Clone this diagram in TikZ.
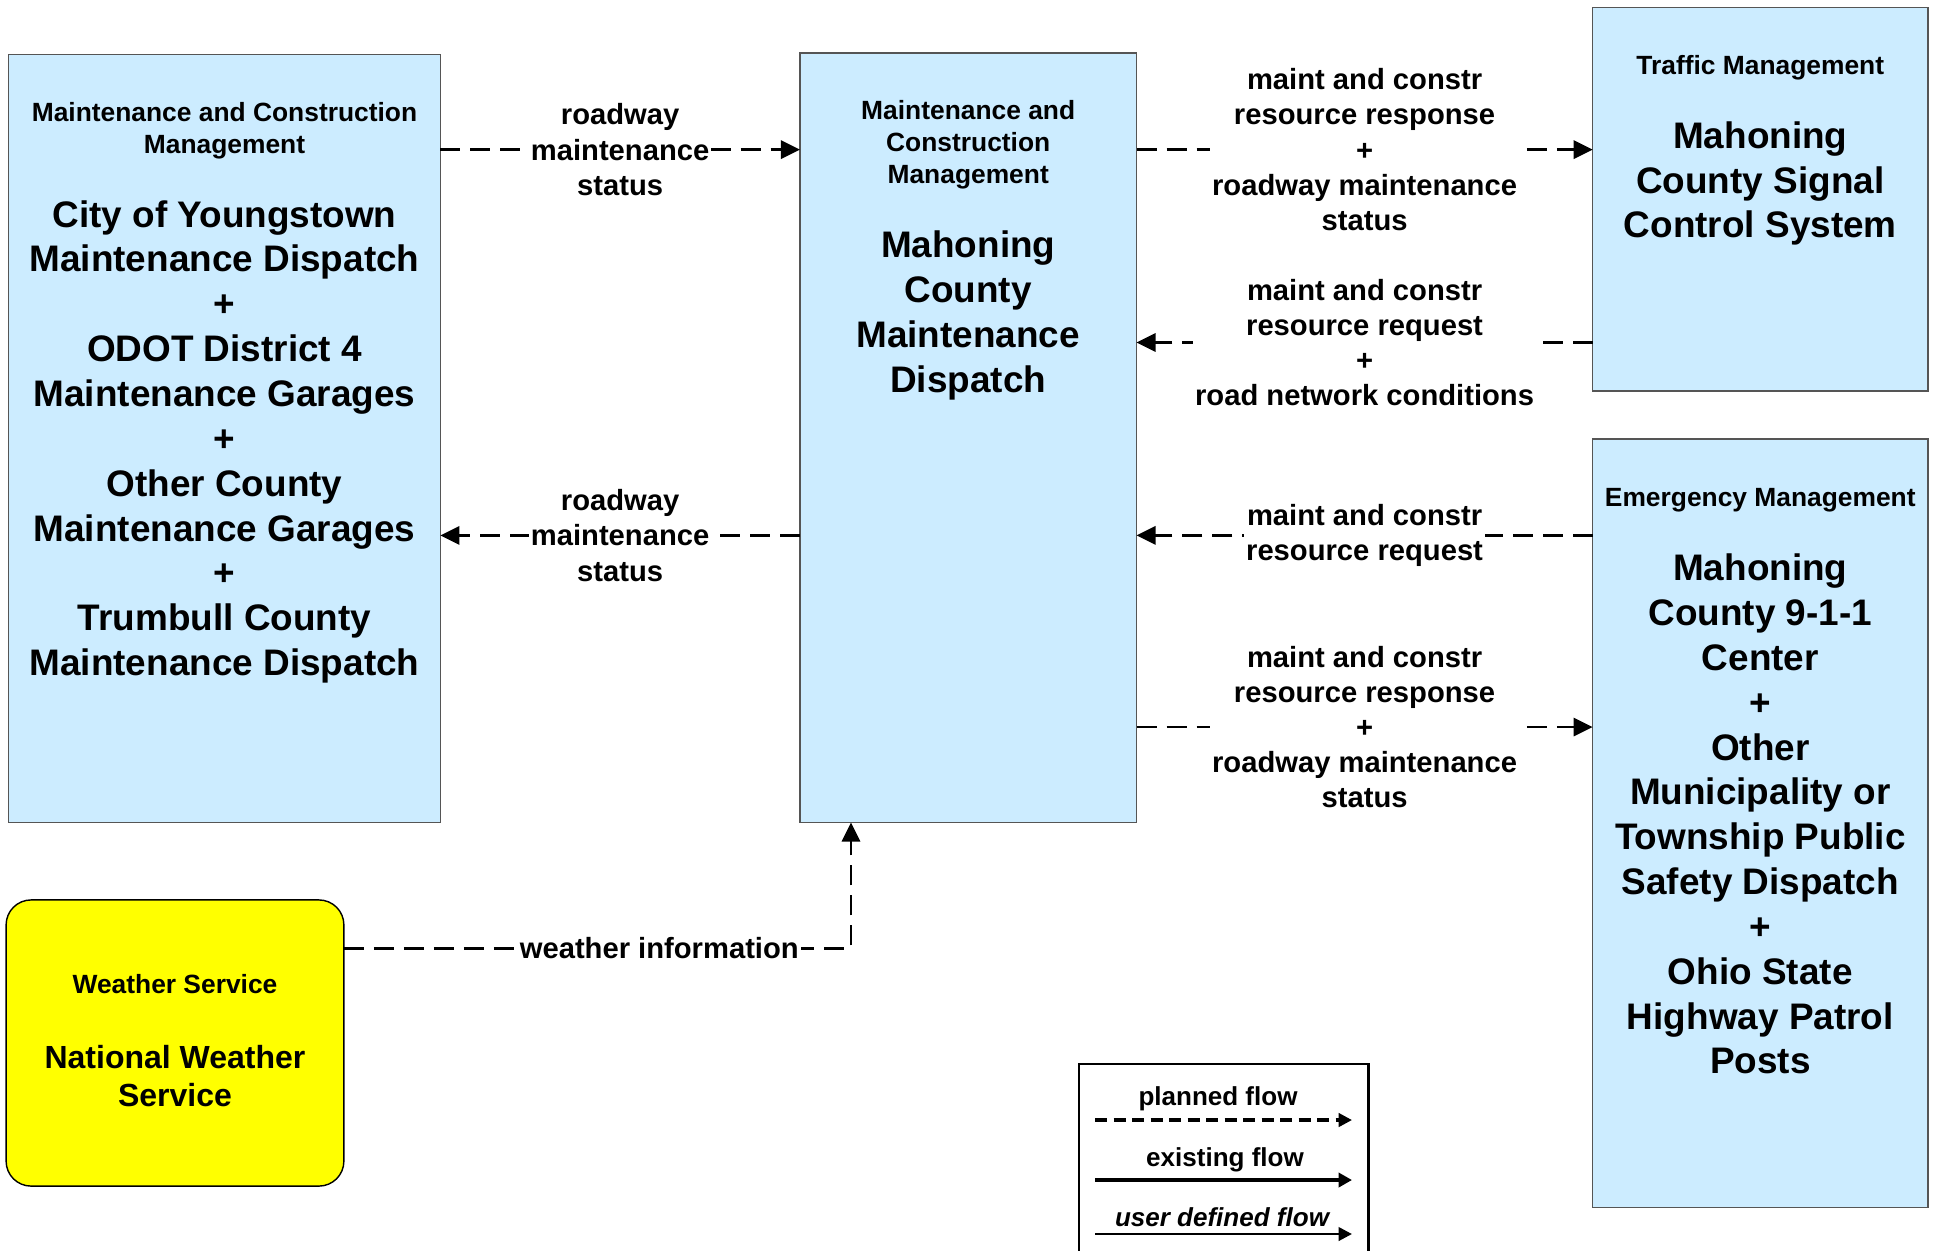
\documentclass[tikz,border=0pt]{standalone}
\usepackage{fontspec}
\setmainfont{Liberation Sans}
\usetikzlibrary{arrows.meta,positioning,calc}
\definecolor{BoxBlue}{RGB}{204,236,255}
\definecolor{WxYellow}{RGB}{255,255,0}
\definecolor{BoxEdge}{RGB}{85,85,85}
\tikzset{
  sysbox/.style={rectangle,draw=BoxEdge,fill=BoxBlue,line width=0.4pt,inner sep=0pt,outer sep=0pt},
  wxbox/.style={rectangle,rounded corners=0.25cm,draw=black,fill=WxYellow,line width=0.4pt,inner sep=0pt,outer sep=0pt},
  hdrtext/.style={align=center,inner sep=0pt,anchor=north,font=\fontsize{7.5}{9.1}\selectfont\bfseries},
  bodytext/.style={align=center,inner sep=0pt,font=\fontsize{10.5}{12.75}\selectfont\bfseries},
  wxtext/.style={align=center,inner sep=0pt,font=\fontsize{9.1}{10.9}\selectfont\bfseries},
  flowpath/.style={-{Triangle[length=5.4pt,width=5.2pt]},line width=0.65pt,dash pattern=on 0.2cm off 0.1cm},
  flowlabel/.style={fill=white,align=center,inner sep=0.5pt,font=\fontsize{8.3}{10}\selectfont\bfseries},
  legendtext/.style={inner sep=0pt,font=\fontsize{7.4}{9}\selectfont\bfseries},
  legendplanned/.style={-{Triangle[length=3.8pt,width=3.8pt]},line width=0.9pt,dash pattern=on 0.12cm off 0.065cm},
  legendexisting/.style={-{Triangle[length=3.8pt,width=4pt]},line width=1.1pt},
  legenduser/.style={-{Triangle[length=3.8pt,width=3.8pt]},line width=0.8pt}
}

\begin{document}
\begin{tikzpicture}[x=0.01cm,y=-0.01cm]
\useasboundingbox (0,0) rectangle (1939,1250);
% boxes
\node[sysbox,minimum width=4.315cm,minimum height=7.679cm] (ycmd) at (224.5,438.4) {};
\node[sysbox,minimum width=3.365cm,minimum height=7.693cm] (mcmd) at (968.2,437.7) {};
\node[sysbox,minimum width=3.352cm,minimum height=3.834cm] (tms) at (1760.3,199.1) {};
\node[sysbox,minimum width=3.352cm,minimum height=7.68cm] (ema) at (1760.3,823) {};
\node[wxbox,minimum width=3.376cm,minimum height=2.86cm] (nws) at (175,1043) {};

\node[hdrtext] (ycmdh) at ($(ycmd.north)+(0,47)$) {Maintenance and Construction\\Management};
\node[bodytext,below=0.403cm of ycmdh] (ycmdb) {City of Youngstown\\Maintenance Dispatch\\+\\ODOT District 4\\Maintenance Garages\\+\\Other County\\Maintenance Garages\\+\\Trumbull County\\Maintenance Dispatch};
\node[hdrtext] (mcmdh) at ($(mcmd.north)+(0,47)$) {Maintenance and\\Construction\\Management};
\node[bodytext,below=0.403cm of mcmdh] (mcmdb) {Mahoning\\County\\Maintenance\\Dispatch};
\node[hdrtext] (tmsh) at ($(tms.north)+(0,47)$) {Traffic Management};
\node[bodytext,below=0.403cm of tmsh] (tmsb) {Mahoning\\County Signal\\Control System};
\node[hdrtext] (emah) at ($(ema.north)+(0,49)$) {Emergency Management};
\node[bodytext,below=0.403cm of emah] (emab) {Mahoning\\County 9-1-1\\Center\\+\\Other\\Municipality or\\Township Public\\Safety Dispatch\\+\\Ohio State\\Highway Patrol\\Posts};
\node[hdrtext] (nwsh) at ($(nws.north)+(0,74)$) {Weather Service};
\node[wxtext,below=0.5cm of nwsh] (nwsb) {National Weather\\Service};

% flows
\coordinate (r1) at (0,149.6);
\coordinate (r2) at (0,342.5);
\coordinate (r3) at (0,535.4);
\coordinate (r4) at (0,727);
\coordinate (r5) at (0,948.5);
\coordinate (c5) at (851,0);
\draw[flowpath] (ycmd.east |- r1) -- node[flowlabel]{roadway\\maintenance\\status} (mcmd.west |- r1);
\draw[flowpath] (mcmd.west |- r3) -- node[flowlabel]{roadway\\maintenance\\status} (ycmd.east |- r3);
\draw[flowpath] (mcmd.east |- r1) -- node[flowlabel]{maint and constr\\resource response\\+\\roadway maintenance\\status} (tms.west |- r1);
\draw[flowpath] (tms.west |- r2) -- node[flowlabel]{maint and constr\\resource request\\+\\road network conditions} (mcmd.east |- r2);
\draw[flowpath] (ema.west |- r3) -- node[flowlabel]{maint and constr\\resource request} (mcmd.east |- r3);
\draw[flowpath] (mcmd.east |- r4) -- node[flowlabel]{maint and constr\\resource response\\+\\roadway maintenance\\status} (ema.west |- r4);
\draw[flowpath] (nws.east |- r5) -| node[flowlabel,pos=0.311]{weather information} (c5 |- mcmd.south);

% legend
\node[draw=black,line width=0.7pt,minimum width=2.89cm,minimum height=2.3cm,inner sep=0pt,anchor=north west] (lgd) at (1078,1063) {};
\node[legendtext] (lgplan) at (1218,1099) {planned flow};
\node[legendtext] (lgexist) at (1225,1160) {existing flow};
\node[legendtext,font=\fontsize{7.4}{9}\selectfont\bfseries\itshape] (lguser) at (1222,1217) {user defined flow};
\coordinate (lp0) at (1095,1120);
\coordinate (lp1) at (1352,1120);
\coordinate (le0) at (1095,1180);
\coordinate (le1) at (1352,1180);
\coordinate (lu0) at (1095,1234);
\coordinate (lu1) at (1352,1234);
\draw[legendplanned] (lp0) -- (lp1);
\draw[legendexisting] (le0) -- (le1);
\draw[legenduser] (lu0) -- (lu1);
\end{tikzpicture}
\end{document}
